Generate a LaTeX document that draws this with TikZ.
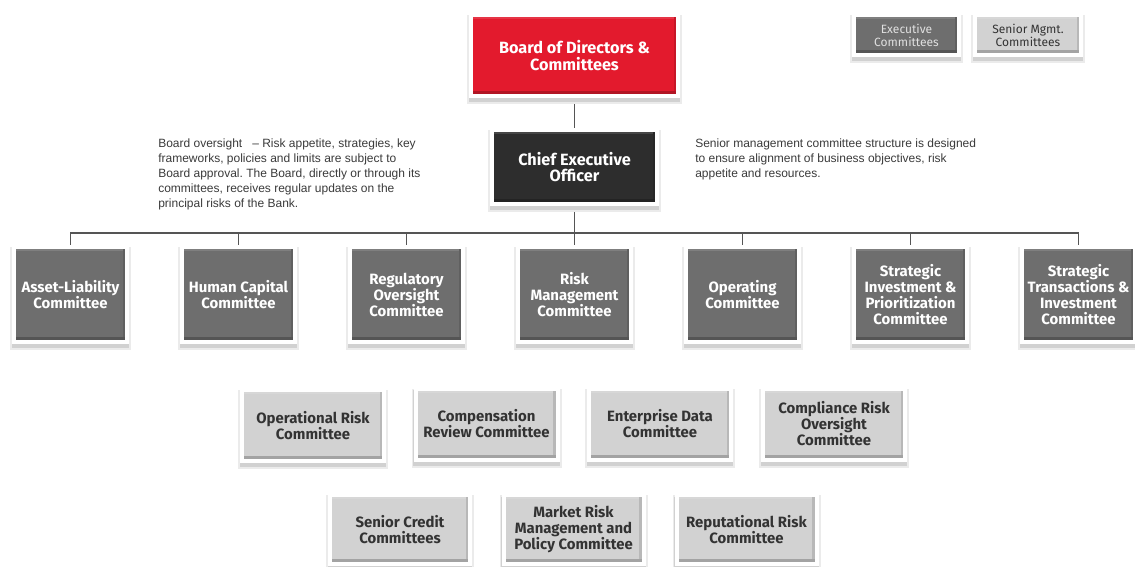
\documentclass[tikz,border=0pt]{standalone}
\usepackage{fontspec}
\setmainfont{Liberation Sans}
\newfontfamily\boxfont{Fira Sans}
\usetikzlibrary{shadows,backgrounds}
\frenchspacing
\definecolor{bred}{HTML}{E31A2D}
\definecolor{bdark}{HTML}{2D2D2D}
\definecolor{bmid}{HTML}{6E6E6E}
\definecolor{blight}{HTML}{D2D2D2}
\definecolor{btext}{HTML}{333333}
\definecolor{desctext}{HTML}{3A3A3A}
\definecolor{linecol}{HTML}{555555}
\tikzset{
  orgbox/.style={rectangle, fill=#1, draw=white, line width=3pt, inner sep=0pt, align=center,
    general shadow={shadow xshift=0pt, shadow yshift=-3.2pt, fill=black!8, draw=black!8, line width=6pt},
    general shadow={shadow xshift=0pt, shadow yshift=-3pt, fill=black!18, draw=black!18, line width=3.4pt},
    path picture={
      \fill[black,opacity=0.22] ([shift={(1.5pt,1.5pt)}]path picture bounding box.south west) rectangle ([shift={(-1.5pt,3.6pt)}]path picture bounding box.south east);
      \fill[black,opacity=0.12] ([shift={(-3.2pt,3.6pt)}]path picture bounding box.south east) rectangle ([shift={(-1.5pt,-1.5pt)}]path picture bounding box.north east);
      \fill[white,opacity=0.12] ([shift={(1.5pt,-1.5pt)}]path picture bounding box.north west) rectangle ([shift={(-3.2pt,-3.0pt)}]path picture bounding box.north east);
    }},
  redbox/.style={orgbox=bred, text=white, font=\boxfont\bfseries\fontsize{12.2pt}{12.3pt}\selectfont,
    minimum width=155.25pt, minimum height=60.75pt},
  ceobox/.style={orgbox=bdark, text=white, font=\boxfont\bfseries\fontsize{12.2pt}{12.3pt}\selectfont,
    minimum width=123.75pt, minimum height=55.5pt},
  mainbox/.style={orgbox=bmid, text=white, font=\boxfont\bfseries\fontsize{11.2pt}{12pt}\selectfont,
    minimum width=84.75pt, minimum height=71.25pt},
  subbox/.style={orgbox=blight, text=btext, font=\boxfont\bfseries\fontsize{11.2pt}{12pt}\selectfont,
    minimum width=106.5pt, minimum height=53.25pt},
  subboxb/.style={subbox, minimum width=105pt, minimum height=51.75pt},
  legdark/.style={orgbox=bmid, text=white!88!black, font=\boxfont\fontsize{9pt}{9.8pt}\selectfont,
    minimum width=78.75pt, minimum height=30pt},
  leglight/.style={orgbox=blight, text=btext, font=\boxfont\fontsize{9pt}{9.8pt}\selectfont,
    minimum width=79.5pt, minimum height=30pt},
  desc/.style={anchor=north west, inner sep=0pt, align=left, text=desctext,
    font=\fontsize{9pt}{11.25pt}\selectfont},
  conn/.style={draw=linecol, line width=0.8pt},
}
\begin{document}
\begin{tikzpicture}[x=0.75pt, y=-0.75pt]
\useasboundingbox (0,0) rectangle (1135,567);
% top
\node[redbox] (board) at (574.5,55.5) {Board of Directors \&\\Committees};
\node[ceobox] (ceo) at (574.5,167) {Chief Executive\\Officer};
% legend
\node[legdark] (legexec) at (906.5,35) {Executive\\Committees};
\node[leglight] (legsen) at (1028,35) {Senior Mgmt.\\Committees};
% descriptions
\node[desc] (descl) at (158,139) {Board oversight \ \ -- Risk appetite, strategies, key\\frameworks, policies and limits are subject to\\Board approval. The Board, directly or through its\\committees, receives regular updates on the\\principal risks of the Bank.};
\node[desc] (descr) at (695,139) {Senior management committee structure is designed\\to ensure alignment of business objectives, risk\\appetite and resources.};
% row 1
\node[mainbox] (a1) at (70.5,294.5) {Asset-Liability\\Committee};
\node[mainbox] (a2) at (238.5,294.5) {Human Capital\\Committee};
\node[mainbox] (a3) at (406.5,294.5) {Regulatory\\Oversight\\Committee};
\node[mainbox] (a4) at (574.5,294.5) {Risk\\Management\\Committee};
\node[mainbox] (a5) at (742.5,294.5) {Operating\\Committee};
\node[mainbox] (a6) at (910.5,294.5) {Strategic\\Investment \&\\Prioritization\\Committee};
\node[mainbox] (a7) at (1078.5,294.5) {Strategic\\Transactions \&\\Investment\\Committee};
% row 2
\node[subbox] (b1) at (313,425.5) {Operational Risk\\Committee};
\node[subbox] (b2) at (486.5,424) {Compensation\\Review Committee};
\node[subbox] (b3) at (660,424) {Enterprise Data\\Committee};
\node[subbox] (b4) at (834,424) {Compliance Risk\\Oversight\\Committee};
% row 3
\node[subboxb] (c1) at (400,529.5) {Senior Credit\\Committees};
\node[subboxb] (c2) at (573.5,529.5) {Market Risk\\Management and\\Policy Committee};
\node[subboxb] (c3) at (746.5,529.5) {Reputational Risk\\Committee};
% connectors
\coordinate (bus) at (574.5,233);
\begin{scope}[on background layer]
\draw[conn] (board.south) -- (ceo.north);
\draw[conn] (ceo.south) -- (bus);
\draw[conn] (a1.north) -- (a1.north |- bus) -- (a7.north |- bus) -- (a7.north);
\foreach \n in {a2,a3,a4,a5,a6} {\draw[conn] (\n.north) -- (\n.north |- bus);}
\end{scope}
\end{tikzpicture}
\end{document}
